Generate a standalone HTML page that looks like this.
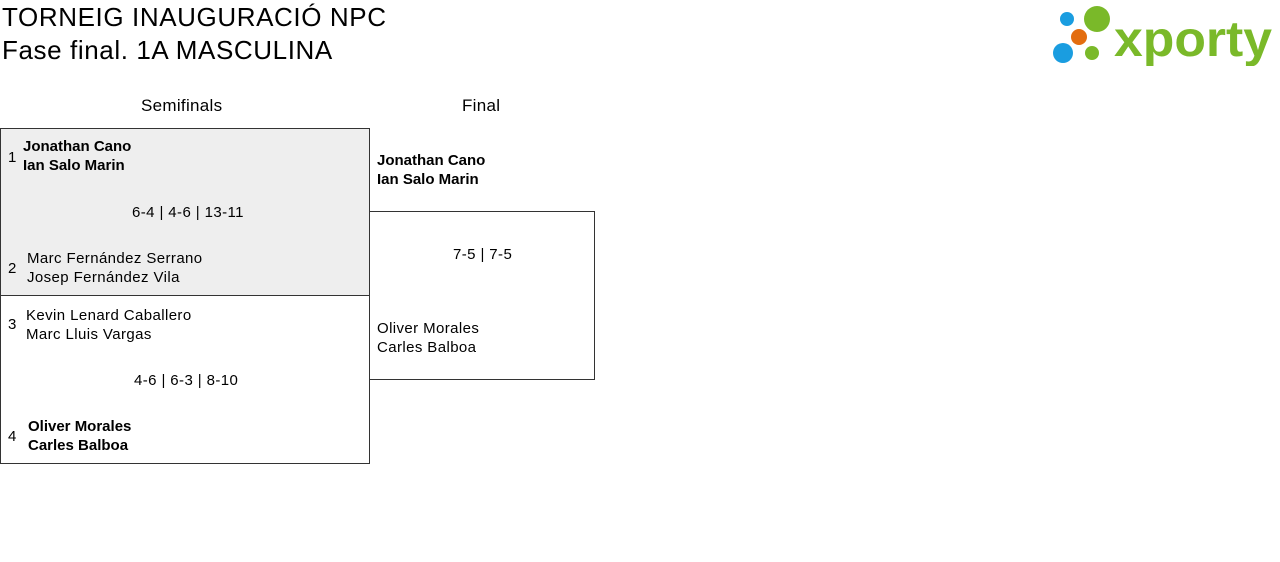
<!DOCTYPE html>
<html><head><meta charset="utf-8"><style>
body{margin:0;width:1280px;height:562px;background:#fff;font-family:"Liberation Sans",sans-serif;color:#000;position:relative;overflow:hidden}
.a{position:absolute;white-space:nowrap}
.t{font-size:26px;letter-spacing:0.6px}
.n{font-size:15px;line-height:19px;letter-spacing:0.4px}
.b{font-weight:bold;letter-spacing:0}
.box{position:absolute;border:1px solid #333;box-sizing:border-box}
</style></head><body>
<div class="a t" style="left:2px;top:2px">TORNEIG INAUGURACIÓ NPC</div>
<div class="a t" style="left:2px;top:35px">Fase final. 1A MASCULINA</div>

<svg class="a" style="left:1050px;top:4px" width="226" height="62">
<circle cx="17" cy="15" r="7" fill="#1a9de0"/>
<circle cx="47" cy="15" r="13" fill="#7ab929"/>
<circle cx="29" cy="33" r="8" fill="#e36d10"/>
<circle cx="13" cy="49" r="10" fill="#1a9de0"/>
<circle cx="42" cy="49" r="7" fill="#7ab929"/>
<text x="64" y="52" font-family="Liberation Sans" font-weight="bold" font-size="50" fill="#7ab929" textLength="158" lengthAdjust="spacingAndGlyphs">xporty</text>
</svg>

<div class="a" style="left:141px;top:96px;font-size:17px;letter-spacing:0.3px">Semifinals</div>
<div class="a" style="left:462px;top:96px;font-size:17px;letter-spacing:0.3px">Final</div>

<div class="box" style="left:0;top:128px;width:370px;height:168px;background:#eee"></div>
<div class="box" style="left:0;top:295px;width:370px;height:169px"></div>
<div class="box" style="left:369px;top:211px;width:226px;height:169px"></div>

<div class="a n" style="left:8px;top:148px">1</div>
<div class="a n b" style="left:23px;top:137px">Jonathan Cano<br>Ian Salo Marin</div>
<div class="a n" style="left:132px;top:203px">6-4 | 4-6 | 13-11</div>
<div class="a n" style="left:8px;top:259px">2</div>
<div class="a n" style="left:27px;top:249px">Marc Fernández Serrano<br>Josep Fernández Vila</div>

<div class="a n" style="left:8px;top:315px">3</div>
<div class="a n" style="left:26px;top:306px">Kevin Lenard Caballero<br>Marc Lluis Vargas</div>
<div class="a n" style="left:134px;top:371px">4-6 | 6-3 | 8-10</div>
<div class="a n" style="left:8px;top:427px">4</div>
<div class="a n b" style="left:28px;top:417px">Oliver Morales<br>Carles Balboa</div>

<div class="a n b" style="left:377px;top:151px">Jonathan Cano<br>Ian Salo Marin</div>
<div class="a n" style="left:453px;top:245px">7-5 | 7-5</div>
<div class="a n" style="left:377px;top:319px">Oliver Morales<br>Carles Balboa</div>
</body></html>
